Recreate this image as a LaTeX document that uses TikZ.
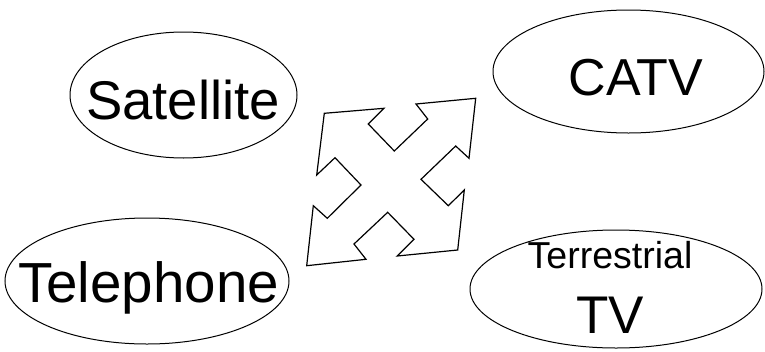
\documentclass[tikz,border=0pt]{standalone}
\usepackage{fontspec}
\setmainfont{Liberation Sans}
\usetikzlibrary{shapes.geometric}

\tikzset{
  ring/.style={draw, ellipse, line width=1pt, inner sep=0pt},
  bigword/.style={anchor=base, inner sep=0pt, font=\fontsize{53}{53}\selectfont},
  smallword/.style={anchor=base, inner sep=0pt, font=\fontsize{37.5}{37.5}\selectfont}
}

\begin{document}
\begin{tikzpicture}[x=1pt,y=-1pt]
    \useasboundingbox (0,0) rectangle (765,351);

    \node[ring, minimum width=227pt, minimum height=126pt] (Sat) at (183.5,95){};
    \node[ring, minimum width=284pt, minimum height=126pt] (Tel) at (147,281){};
    \node[ring, minimum width=271pt, minimum height=123pt] (Catv) at (628.5,71.5){};
    \node[ring, minimum width=292pt, minimum height=118pt] (Terr) at (616,289){};

    \node[bigword, font=\fontsize{54.5}{54.5}\selectfont] (SatText) at (183,119){Satellite};
    \node[bigword, font=\fontsize{56.5}{56.5}\selectfont] (TelText) at (148.5,302){Telephone};
    \node[bigword, font=\fontsize{52}{52}\selectfont] (CatvText) at (636,95){CATV};
    \node[smallword] (TerrText) at (610,268){Terrestrial};
    \node[bigword] (TvText) at (610,333){TV};

    % four-way arrow
    \draw[line width=1.2pt, line join=miter]
      (324.3,113.3) -- (384,108.3) -- (368.3,124) -- (394.3,151)
      -- (427.7,119) -- (416,104) -- (475.7,98.3) -- (469,158.3)
      -- (455.7,146) -- (421,179.3) -- (448.3,205.7) -- (464.3,190)
      -- (457.7,250) -- (397.3,256) -- (414,239.3) -- (387.7,212.3)
      -- (354,244) -- (366,259.3) -- (306.7,265.7) -- (313.3,205.7)
      -- (327.3,218.3) -- (361,185) -- (335,157.7) -- (316.7,175) -- cycle;
  \end{tikzpicture}
\end{document}
